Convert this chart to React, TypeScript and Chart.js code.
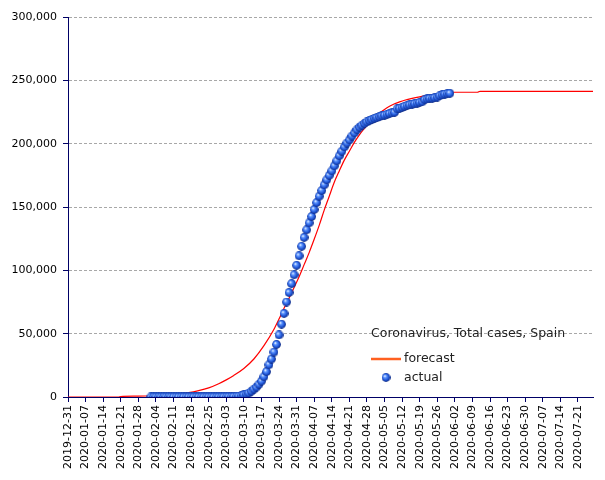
import { useEffect, useRef } from "react";
import { Chart, registerables } from "chart.js";
Chart.register(...registerables);

const ORIGIN = "2019-12-31";
const AXIS_END = "2020-07-27";

const xTickLabels = [
  "2019-12-31", "2020-01-07", "2020-01-14", "2020-01-21", "2020-01-28",
  "2020-02-04", "2020-02-11", "2020-02-18", "2020-02-25", "2020-03-03",
  "2020-03-10", "2020-03-17", "2020-03-24", "2020-03-31", "2020-04-07",
  "2020-04-14", "2020-04-21", "2020-04-28", "2020-05-05", "2020-05-12",
  "2020-05-19", "2020-05-26", "2020-06-02", "2020-06-09", "2020-06-16",
  "2020-06-23", "2020-06-30", "2020-07-07", "2020-07-14", "2020-07-21",
];

const yTickValues = [0, 50000, 100000, 150000, 200000, 250000, 300000];

const forecastDates = [
  "2019-12-31", "2020-01-20", "2020-01-21", "2020-01-28", "2020-02-04",
  "2020-02-09", "2020-02-13", "2020-02-17", "2020-02-21", "2020-02-25",
  "2020-02-29", "2020-03-03", "2020-03-06", "2020-03-10", "2020-03-14",
  "2020-03-18", "2020-03-22", "2020-03-24", "2020-03-26", "2020-03-28",
  "2020-03-30", "2020-04-01", "2020-04-03", "2020-04-05", "2020-04-07",
  "2020-04-09", "2020-04-11", "2020-04-13", "2020-04-15", "2020-04-17",
  "2020-04-19", "2020-04-21", "2020-04-23", "2020-04-25", "2020-04-27",
  "2020-04-29", "2020-05-01", "2020-05-03", "2020-05-05", "2020-05-07",
  "2020-05-09", "2020-05-11", "2020-05-13", "2020-05-16", "2020-05-19",
  "2020-05-22", "2020-05-25", "2020-05-29", "2020-06-01", "2020-06-11",
  "2020-06-12", "2020-07-27",
];
const forecastValues = [
  0, 0, 400, 700, 1200,
  1800, 2500, 3400, 5000, 7200,
  10500, 13500, 17000, 22500, 30000,
  40500, 53500, 61500, 70000, 78000,
  86500, 95000, 104500, 114000, 124500,
  135500, 147500, 158500, 169500, 178500,
  187000, 194000, 201000, 207000, 212000,
  216500, 220500, 224000, 227000, 229500,
  231500, 233000, 234300, 235800, 237000,
  238000, 239000, 240000, 240600, 240600,
  241300, 241300,
];

const actualStart = "2020-02-02";
const actualValues = [
  // Feb 2 - Feb 8
  1, 1, 1, 1, 1, 1, 1,
  // Feb 9 - Feb 23
  2, 2, 2, 2, 2, 2, 2, 2, 2, 2, 2, 2, 2, 2, 2,
  // Feb 24 - Mar 1
  3, 6, 13, 15, 32, 45, 84,
  // Mar 2 - Mar 11
  120, 165, 222, 259, 400, 500, 673, 1073, 1695, 2277,
  // Mar 12 - Mar 21
  3146, 4500, 6200, 7800, 10000, 12500, 16000, 20000, 25500, 30000,
  // Mar 22 - Mar 31
  35500, 41500, 49000, 57500, 66000, 75000, 82500, 89500, 96500, 104000,
  // Apr 1 - Apr 10
  111500, 119000, 126000, 132000, 137500, 142500, 148000, 153500, 158500, 163000,
  // Apr 11 - Apr 20
  167500, 171500, 175000, 178500, 182500, 186500, 190500, 194000, 197500, 200500,
  // Apr 21 - Apr 30
  203000, 206000, 208500, 211000, 213000, 214500, 216000, 217200, 218200, 219100,
  // May 1 - May 10
  220000, 220600, 221300, 222000, 222600, 223200, 223800, 224300, 224800, 227500,
  // May 11 - May 20
  228000, 228700, 229500, 230200, 230700, 231300, 231600, 232100, 232600, 233100,
  // May 21 - May 31
  234800, 235300, 235800, 235900, 236300, 236800, 237900, 238600, 239200, 239500, 239800,
];

const legendTitle = "Coronavirus, Total cases, Spain";
const forecastName = "forecast";
const actualName = "actual";

const dayIndex = (d: string) =>
  Math.round((Date.parse(d + "T00:00:00Z") - Date.parse(ORIGIN + "T00:00:00Z")) / 86400000);

const FONT = '"DejaVu Sans", sans-serif';
const NAVY = "#000066";

function makeDot(): HTMLCanvasElement {
  const c = document.createElement("canvas");
  c.width = 9;
  c.height = 9;
  const g = c.getContext("2d")!;
  const grad = g.createRadialGradient(3.2, 3, 0.3, 4.5, 4.5, 5);
  grad.addColorStop(0, "#eaf3ff");
  grad.addColorStop(0.25, "#5e96ff");
  grad.addColorStop(0.62, "#1f55d6");
  grad.addColorStop(1, "#071a66");
  g.fillStyle = grad;
  g.beginPath();
  g.arc(4.5, 4.5, 4.4, 0, Math.PI * 2);
  g.fill();
  return c;
}

export default function App() {
  const ref = useRef<HTMLCanvasElement | null>(null);

  useEffect(() => {
    if (!ref.current) return;
    const dot = makeDot();
    const start = dayIndex(actualStart);

    const legendPlugin = {
      id: "insideLegend",
      afterDraw(chart: any) {
        const ctx = chart.ctx as CanvasRenderingContext2D;
        ctx.save();
        ctx.font = `12.5px ${FONT}`;
        ctx.fillStyle = "#222";
        ctx.textBaseline = "middle";
        ctx.textAlign = "left";
        ctx.fillText(legendTitle, 371, 334);
        ctx.strokeStyle = "rgb(255,96,32)";
        ctx.lineWidth = 2.5;
        ctx.beginPath();
        ctx.moveTo(371, 359);
        ctx.lineTo(401, 359);
        ctx.stroke();
        ctx.fillText(forecastName, 404, 359);
        ctx.drawImage(dot, 386 - 4.5, 377.5 - 4.5);
        ctx.fillText(actualName, 404, 377.5);
        ctx.restore();
      },
    };

    const chart = new Chart(ref.current, {
      type: "line",
      data: {
        datasets: [
          {
            label: actualName,
            data: actualValues.map((v, i) => ({ x: start + i, y: v })),
            showLine: false,
            pointStyle: dot as any,
            pointRadius: 4.5,
            pointHoverRadius: 4.5,
            order: 0,
          },
          {
            label: forecastName,
            data: forecastDates.map((d, i) => ({ x: dayIndex(d), y: forecastValues[i] })),
            borderColor: "#ff0000",
            borderWidth: 1.2,
            pointRadius: 0,
            cubicInterpolationMode: "monotone",
            fill: false,
            order: 1,
          },
        ],
      },
      options: {
        responsive: false,
        animation: false,
        events: [],
        layout: { padding: { top: 17, right: 12, left: 0, bottom: 0 } },
        plugins: { legend: { display: false }, tooltip: { enabled: false } },
        scales: {
          x: {
            type: "linear",
            min: 0,
            max: dayIndex(AXIS_END),
            afterBuildTicks: (s: any) => {
              s.ticks = xTickLabels.map((l) => ({ value: dayIndex(l) }));
            },
            afterFit: (s: any) => {
              s.height = 83;
            },
            ticks: {
              autoSkip: false,
              maxRotation: 90,
              minRotation: 90,
              padding: 3,
              color: "#000",
              font: { family: FONT, size: 11 },
              callback: (_v: any, i: number) => xTickLabels[i] ?? "",
            },
            grid: { drawOnChartArea: false, tickLength: 5, tickColor: NAVY },
            border: { color: NAVY, width: 1 },
          },
          y: {
            min: 0,
            max: 300000,
            afterBuildTicks: (s: any) => {
              s.ticks = yTickValues.map((v) => ({ value: v }));
            },
            afterFit: (s: any) => {
              s.width = 68;
            },
            ticks: {
              padding: 6,
              color: "#000",
              font: { family: FONT, size: 11 },
              callback: (v: any) => Number(v).toLocaleString("en-US"),
            },
            grid: { color: "#a8a8a8", lineWidth: 1, tickColor: NAVY, tickLength: 5 },
            border: { color: NAVY, width: 1, dash: [3, 2] },
          },
        },
      },
      plugins: [legendPlugin],
    } as any);

    return () => chart.destroy();
  }, []);

  return (
    <div style={{ position: "absolute", left: 0, top: 0, width: 605, height: 480, background: "#fff" }}>
      <canvas ref={ref} width={605} height={480} />
    </div>
  );
}
